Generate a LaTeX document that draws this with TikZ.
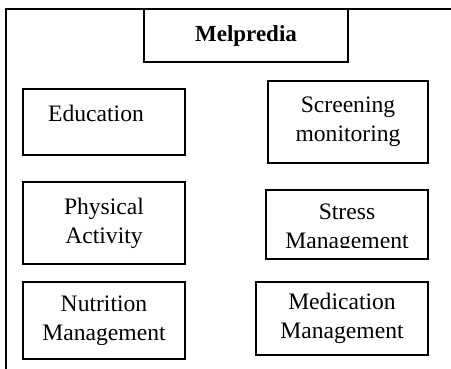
\documentclass[tikz,border=0pt]{standalone}
\usepackage{fontspec}
\setmainfont{Liberation Serif}
\begin{document}
\begin{tikzpicture}[x=0.5pt,y=-0.5pt,
  box/.style={draw,line width=1.2pt,rectangle,inner sep=0pt,align=center,
    font=\fontsize{11.8pt}{14.5pt}\selectfont},
  frame/.style={line width=1.2pt}]
\useasboundingbox (0,0) rectangle (451,369);
\draw[frame] (451,9) coordinate (fr1) -- (6,9) coordinate (fr2) -- (6,369) coordinate (fr3);
\node[box,minimum width=102pt,minimum height=26.5pt,font=\fontsize{11.5pt}{14pt}\selectfont\bfseries] (mel) at (246,35.5) {Melpredia};
\node[box,minimum width=81pt,minimum height=33pt,text height=9pt,text depth=9pt] (edu) at (104,122) {\hspace*{-8pt}Education};
\node[box,minimum width=80pt,minimum height=41pt] (scr) at (348,122) {Screening\\monitoring};
\node[box,minimum width=81pt,minimum height=41pt] (phy) at (104,223) {Physical\\Activity};
\node[box,minimum width=81pt,minimum height=34.5pt] (str) at (347,224.5) {};
\begin{scope}
\clip (266,190) rectangle (428,248);
\node[align=center,inner sep=0pt,font=\fontsize{11.8pt}{14.5pt}\selectfont] (strt) at (347,229) {Stress\\Management};
\end{scope}
\node[box,minimum width=81pt,minimum height=38.5pt] (nut) at (104,320.5) {Nutrition\\Management};
\node[box,minimum width=86pt,minimum height=36.5pt] (med) at (342,318.5) {Medication\\Management};
\end{tikzpicture}
\end{document}
